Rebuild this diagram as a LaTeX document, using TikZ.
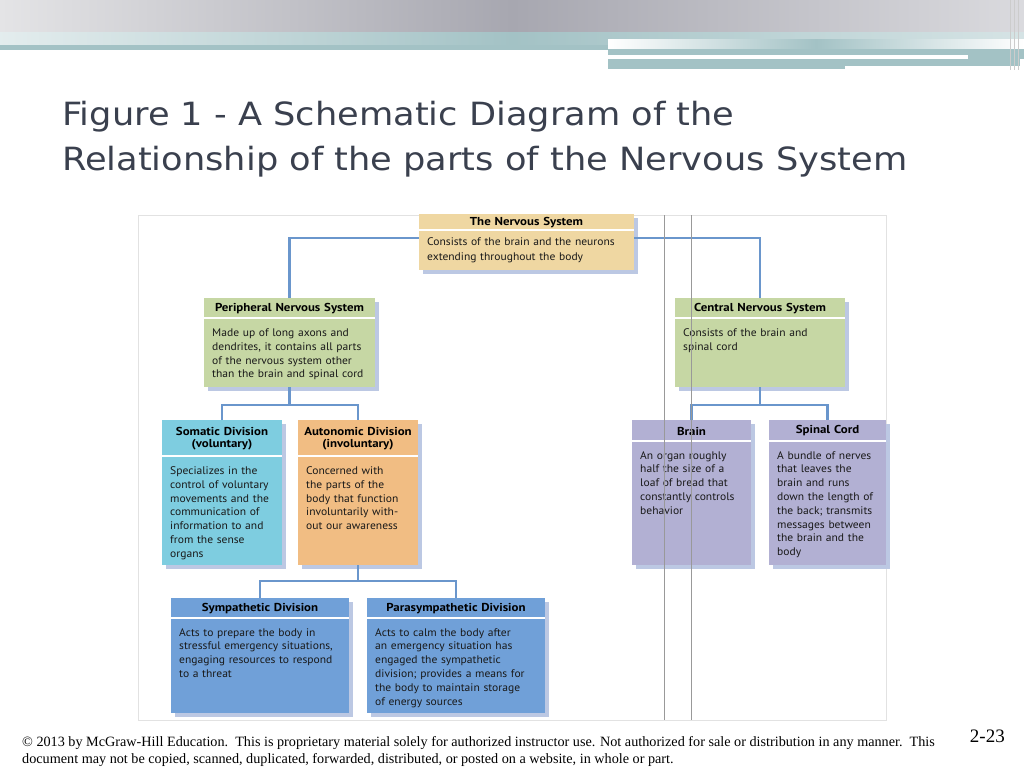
\documentclass[tikz,border=0pt]{standalone}
\usepackage{fontspec}
\setmainfont{Liberation Serif}
\newfontfamily\titlefont[FakeStretch=1.1]{DejaVu Sans}
\newfontfamily\boxfont[FakeStretch=1.05]{PT Sans}
\newfontfamily\headfont[FakeStretch=1.12]{PT Sans}
\definecolor{tanc}{HTML}{EFD7A2}
\definecolor{greenc}{HTML}{C6D7A4}
\definecolor{cyanc}{HTML}{7ECDE0}
\definecolor{orangec}{HTML}{F1BD83}
\definecolor{purplec}{HTML}{B2B0D3}
\definecolor{bluec}{HTML}{70A0D8}
\definecolor{linec}{HTML}{6A96CC}
\definecolor{shadowc}{HTML}{BCC8E3}
\definecolor{titlec}{HTML}{3A404E}
\definecolor{tealc}{HTML}{A3C2C5}
\definecolor{framec}{HTML}{E2E2E2}
\definecolor{bannerL}{HTML}{E4E4E6}
\definecolor{bannerM}{HTML}{A7A7B0}
\definecolor{bannerR}{HTML}{DADADE}
\tikzset{
  boxshape/.style={rectangle, inner sep=0pt, outer sep=0pt},
  headtext/.style={font=\headfont\bfseries\fontsize{11.5}{12}\selectfont, align=center, inner sep=0pt, text=black},
  bodytext/.style={font=\boxfont\fontsize{11}{13.8}\selectfont, align=left, inner sep=0pt, text=black!90},
  conn/.style={draw=linec, line width=2.6pt},
  scanline/.style={draw=black!40, line width=0.8pt},
  titletext/.style={font=\titlefont\fontsize{32}{36}\selectfont, text=titlec, anchor=base west, inner sep=0pt},
  foottext/.style={font=\fontsize{14.2}{17}\selectfont, anchor=base west, inner sep=0pt}
}
\def\boff{10}
\newcommand\ubox[9]{%
  \fill[shadowc] (#2+4,#3+4) rectangle ++(#4,#5);
  \node[boxshape, fill=#7, minimum width=#4pt, minimum height=#5pt, anchor=north west] (#1) at (#2,#3) {};
  \draw[white, line width=1.4pt] (#2,#3+#6) -- ++(#4,0);
  \node[headtext, text width=#4pt] (#1-h) at (#2+#4/2, #3+#6/2+0.5) {#8};
  \node[bodytext, text width=#4pt-10pt, anchor=north west] (#1-b) at (#2+8,#3+#6+\boff) {#9};
}
\begin{document}
\begin{tikzpicture}[x=1pt,y=-1pt]
\useasboundingbox (0,0) rectangle (1024,768);
\fill[white] (0,0) rectangle (1024,768);
% banner
\shade[left color=bannerL, right color=bannerR, middle color=bannerM] (0,0) rectangle (1024,33);
\shade[left color=tealc!30, right color=tealc!45, middle color=tealc] (0,33) rectangle (1024,45);
\fill[tealc] (0,45) rectangle (610,50);
\shade[left color=white, right color=white, middle color=tealc] (608,40) rectangle (1024,49);
\fill[tealc] (608,49) rectangle (1024,55);
\fill[white] (608,55) rectangle (968,59);
\fill[tealc] (968,55) rectangle (1024,59);
\fill[tealc] (608,59) rectangle (845,69);
\fill[tealc] (845,59) rectangle (1020,66);
\foreach \xx in {1010,1014,1018} \draw[white!80!black, line width=0.6pt] (\xx,0) -- (\xx,70);
% title
\node[titletext] (title1) at (62,125) {Figure 1 - A Schematic Diagram of the};
\node[titletext] (title2) at (62,170) {Relationship of the parts of the Nervous System};
% frame
\draw[framec, line width=1pt] (138,215) rectangle (886,720);
% boxes
\def\boff{7}
{\tikzset{bodytext/.append style={font=\boxfont\fontsize{11}{15}\selectfont}}
\ubox{ns}{419}{214}{215}{56}{16}{tanc}{The Nervous System}{Consists of the brain and the neurons\\extending throughout the body}}
\def\boff{10.5}
\ubox{pns}{204}{298}{171}{89}{20}{greenc}{Peripheral Nervous System}{Made up of long axons and\\dendrites, it contains all parts\\of the nervous system other\\than the brain and spinal cord}
\ubox{cns}{675}{298}{170}{89}{20}{greenc}{Central Nervous System}{Consists of the brain and\\spinal cord}
\ubox{som}{162}{420}{120}{145}{36}{cyanc}{Somatic Division\\(voluntary)}{Specializes in the\\control of voluntary\\movements and the\\communication of\\information to and\\from the sense\\organs}
\ubox{aut}{298}{420}{120}{145}{36}{orangec}{Autonomic Division\\(involuntary)}{Concerned with\\the parts of the\\body that function\\involuntarily with-\\out our awareness}
\def\boff{10}
\ubox{brain}{632}{420}{119}{145}{21}{purplec}{Brain}{An organ roughly\\half the size of a\\loaf of bread that\\constantly controls\\behavior}
\ubox{spinal}{769}{420}{117}{145}{21}{purplec}{Spinal Cord}{A bundle of nerves\\that leaves the\\brain and runs\\down the length of\\the back; transmits\\messages between\\the brain and the\\body}
\ubox{sym}{171}{598}{178}{115}{20}{bluec}{Sympathetic Division}{Acts to prepare the body in\\stressful emergency situations,\\engaging resources to respond\\to a threat}
\ubox{para}{367}{598}{178}{115}{20}{bluec}{Parasympathetic Division}{Acts to calm the body after\\an emergency situation has\\engaged the sympathetic\\division; provides a means for\\the body to maintain storage\\of energy sources}
% connectors
\draw[conn] (pns.north) |- ([yshift=4pt]ns.west);
\draw[conn] (cns.north) |- ([yshift=4pt]ns.east);
\draw[conn] (pns.south) -- ++(0,18) coordinate (j1);
\draw[conn] (som.north) |- (j1) -| (aut.north);
\draw[conn] (cns.south) -- ++(0,18) coordinate (j2);
\draw[conn] (brain.north) |- (j2) -| (spinal.north);
\draw[conn] (aut.south) -- ++(0,16) coordinate (j3);
\draw[conn] (sym.north) |- (j3) -| (para.north);
% scan lines
\draw[scanline] (664,215) -- (664,720);
\draw[scanline] (691,215) -- (691,720);
% footer
\node[foottext] (foot1) at (22,746)
  {\copyright\ 2013 by McGraw-Hill Education.\ \ This is proprietary material solely for authorized instructor use. Not authorized for sale or distribution in any manner.\ \ This};
\node[foottext] (foot2) at (22,763)
  {document may not be copied, scanned, duplicated, forwarded, distributed, or posted on a website, in whole or part.};
\node[font=\fontsize{19}{20}\selectfont, anchor=base east, inner sep=0pt] (pg) at (1005,742) {2-23};
\end{tikzpicture}
\end{document}
